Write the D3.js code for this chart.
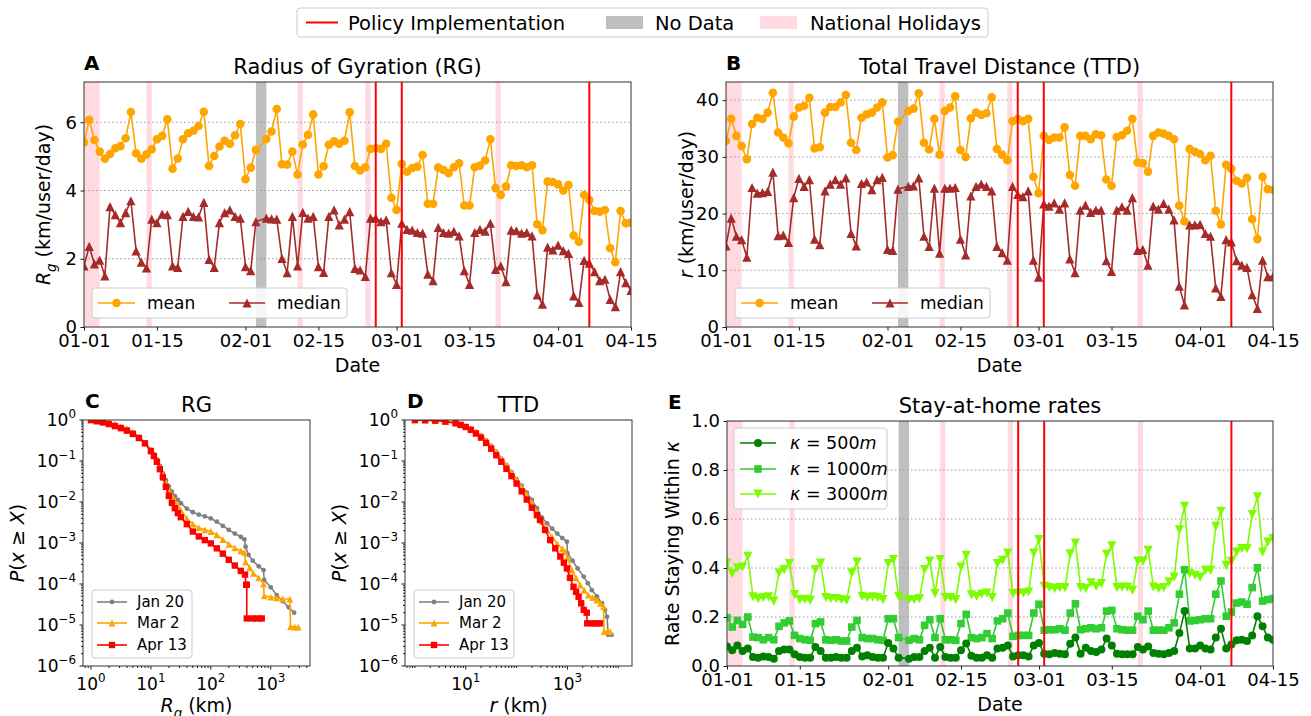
<!DOCTYPE html>
<html>
<head>
<meta charset="utf-8">
<script src="https://cdn.jsdelivr.net/npm/d3@7/dist/d3.min.js"></script>
<style>
  body { margin: 0; background: #fff; }
  svg { font-family: "DejaVu Sans", sans-serif; }
</style>
</head>
<body>
<svg id="fig" width="1311" height="716"></svg>
<script>
// ---- Data ----
// one value per day, 2020-01-01 .. 2020-04-15 (null = no data on 02-04)
const dates = d3.timeDay.range(new Date(2020, 0, 1), new Date(2020, 3, 16));
const dateTicks = ["2020-01-01", "2020-01-15", "2020-02-01", "2020-02-15", "2020-03-01", "2020-03-15", "2020-04-01", "2020-04-15"];

const rgMean = [5.41,6.07,5.48,5.14,4.93,5.07,5.24,5.30,5.53,6.30,
  5.09,4.93,5.06,5.21,5.50,5.60,6.09,4.64,4.94,5.50,
  5.68,5.75,5.89,6.31,4.72,5.01,5.29,5.46,5.37,5.62,
  5.95,4.33,4.67,5.19,null,5.51,5.73,6.39,4.77,4.76,
  5.14,4.47,5.35,5.63,6.23,4.47,4.71,5.34,5.44,5.37,
  5.46,6.29,4.72,4.59,4.68,5.22,5.24,5.22,5.37,3.79,
  3.43,4.78,4.55,4.66,4.70,5.04,3.61,3.61,4.67,4.60,
  4.51,4.68,4.80,3.56,3.56,4.68,4.73,4.88,5.50,4.07,
  3.87,4.12,4.74,4.72,4.74,4.68,4.74,3.01,2.84,4.26,
  4.25,4.18,4.00,4.16,2.68,2.50,3.87,3.72,3.40,3.38,
  3.43,2.31,1.90,3.40,3.04,3.06];
const rgMedian = [1.79,2.36,1.85,1.96,1.50,3.53,3.29,3.06,3.35,3.70,
  2.23,1.90,1.73,3.16,3.06,3.31,3.29,1.79,1.75,3.24,
  3.39,3.24,3.23,3.65,1.98,1.75,3.06,3.35,3.43,3.24,
  3.19,1.77,1.65,3.09,null,3.19,3.17,3.16,2.01,1.59,
  3.24,1.79,3.36,3.19,3.24,1.77,1.60,3.24,3.43,2.99,
  3.16,3.38,1.72,1.67,1.48,3.19,3.19,3.09,3.14,1.59,
  1.25,3.04,2.86,2.84,2.77,2.75,1.55,1.36,2.92,2.77,
  2.75,2.80,2.67,1.65,1.25,2.77,2.86,2.81,3.04,1.69,
  1.79,1.33,2.84,2.82,2.75,2.77,2.67,0.94,0.67,2.34,
  2.26,2.40,2.24,2.16,0.91,0.72,1.95,1.87,1.62,1.36,
  1.40,0.81,0.60,1.62,1.30,1.07];
const ttdMean = [32.8,36.7,33.7,31.9,29.6,35.8,36.9,36.7,37.8,41.3,
  34.3,33.4,32.4,37.1,38.7,39.0,40.4,31.5,31.7,37.8,
  38.8,38.8,39.6,40.9,32.5,31.2,36.9,37.5,37.8,38.7,
  39.6,29.9,30.3,36.2,null,38.1,38.5,41.2,32.5,31.3,
  36.7,30.4,38.1,38.7,40.7,31.2,30.0,36.8,37.8,37.4,
  37.7,40.5,31.4,30.4,29.4,36.3,36.7,36.3,36.7,26.5,
  23.6,33.7,33.0,33.4,33.4,35.2,26.8,24.9,33.7,33.7,
  33.1,34.0,33.8,26.0,24.9,33.5,33.8,34.6,36.7,29.0,
  28.9,27.4,33.7,34.3,34.1,33.7,33.1,21.4,18.6,31.4,
  30.9,30.5,29.4,30.2,20.5,18.1,28.6,27.9,25.8,25.3,
  26.3,19.0,15.5,26.5,24.3,24.2];
const ttdMedian = [14.3,19.2,16.0,15.4,12.3,24.6,23.6,23.7,23.9,27.3,
  16.1,16.2,14.9,22.8,26.2,24.8,26.0,15.5,14.5,24.0,
  25.2,26.0,25.2,26.3,16.5,14.3,25.3,25.6,24.2,26.0,
  26.4,13.7,13.5,24.3,null,24.8,24.9,26.3,16.0,14.2,
  24.5,13.0,24.5,24.5,24.6,15.5,12.7,23.1,24.8,25.2,
  24.8,24.0,14.2,13.1,11.8,24.8,23.4,23.0,24.0,11.8,
  8.8,21.7,21.3,21.9,20.8,21.9,12.0,9.6,20.6,21.5,
  20.2,20.6,20.6,11.7,9.8,20.6,21.2,20.6,22.8,13.5,
  13.7,10.9,21.3,20.8,21.8,20.8,18.9,7.2,3.9,18.0,
  18.0,18.1,16.5,16.0,6.9,5.4,15.4,15.0,11.7,10.9,
  10.5,5.7,3.3,11.8,8.9,8.9];
const stay500 = [0.080,0.064,0.084,0.061,0.071,0.037,0.034,0.039,0.037,0.030,
  0.061,0.067,0.067,0.048,0.037,0.034,0.034,0.078,0.061,0.034,
  0.034,0.037,0.034,0.034,0.061,0.075,0.039,0.044,0.037,0.034,
  0.034,0.094,0.071,0.034,null,0.030,0.037,0.037,0.061,0.075,
  0.034,0.078,0.037,0.034,0.034,0.064,0.092,0.042,0.034,0.034,
  0.044,0.034,0.071,0.075,0.084,0.039,0.044,0.044,0.039,0.084,
  0.094,0.050,0.048,0.053,0.050,0.048,0.091,0.116,0.050,0.075,
  0.061,0.057,0.067,0.112,0.084,0.050,0.048,0.048,0.048,0.078,
  0.067,0.080,0.053,0.050,0.048,0.053,0.061,0.135,0.224,0.071,
  0.071,0.084,0.071,0.067,0.116,0.152,0.071,0.088,0.105,0.107,
  0.102,0.125,0.203,0.162,0.116,0.107];
const stay1000 = [0.197,0.159,0.186,0.170,0.200,0.118,0.116,0.107,0.116,0.107,
  0.162,0.176,0.184,0.125,0.112,0.107,0.105,0.173,0.180,0.107,
  0.105,0.107,0.102,0.102,0.159,0.186,0.116,0.112,0.112,0.107,
  0.105,0.193,0.193,0.116,null,0.105,0.112,0.107,0.166,0.189,
  0.116,0.193,0.107,0.107,0.105,0.173,0.211,0.116,0.112,0.116,
  0.132,0.112,0.184,0.193,0.216,0.121,0.125,0.125,0.125,0.216,
  0.252,0.146,0.148,0.148,0.152,0.146,0.216,0.254,0.148,0.152,
  0.156,0.152,0.156,0.224,0.227,0.152,0.148,0.146,0.146,0.203,
  0.189,0.224,0.146,0.146,0.146,0.156,0.176,0.293,0.393,0.184,
  0.186,0.189,0.193,0.193,0.293,0.347,0.203,0.220,0.257,0.261,
  0.252,0.320,0.401,0.265,0.271,0.275];
const stay3000 = [0.420,0.377,0.400,0.404,0.448,0.282,0.275,0.279,0.282,0.265,
  0.380,0.393,0.418,0.291,0.271,0.272,0.268,0.393,0.420,0.279,
  0.275,0.275,0.271,0.268,0.380,0.424,0.284,0.279,0.282,0.279,
  0.271,0.418,0.434,0.284,null,0.271,0.271,0.275,0.393,0.428,
  0.295,0.434,0.279,0.279,0.271,0.404,0.452,0.290,0.284,0.293,
  0.298,0.279,0.418,0.431,0.461,0.295,0.298,0.298,0.302,0.461,
  0.516,0.325,0.320,0.316,0.320,0.320,0.458,0.502,0.320,0.316,
  0.339,0.325,0.336,0.456,0.490,0.320,0.322,0.322,0.309,0.428,
  0.428,0.472,0.322,0.316,0.320,0.343,0.363,0.556,0.652,0.377,
  0.370,0.363,0.390,0.390,0.570,0.631,0.411,0.427,0.465,0.479,
  0.479,0.618,0.690,0.465,0.506,0.520];

// shaded periods and policy dates
const holidays = [["2020-01-01", "2020-01-04"], ["2020-01-13", "2020-01-14"], ["2020-02-11", "2020-02-12"], ["2020-02-24", "2020-02-25"], ["2020-03-20", "2020-03-21"]];
const noData = [["2020-02-03", "2020-02-05"]];
const policyDates = ["2020-02-26", "2020-03-02", "2020-04-07"];

// CCDF curves, pairs of [log10 km, log10 P(x >= X)]
const rgJan20 = [[0,0],[0.1,-0.02],[0.2,-0.04],[0.3,-0.07],[0.4,-0.11],[0.5,-0.16],[0.6,-0.22],[0.7,-0.3],[0.8,-0.41],[0.9,-0.55],[1.0,-0.72],[1.05,-0.83],[1.1,-0.96],[1.15,-1.12],[1.2,-1.3],[1.25,-1.47],[1.3,-1.62],[1.35,-1.75],[1.4,-1.86],[1.45,-1.95],[1.5,-2.03],[1.6,-2.16],[1.7,-2.25],[1.8,-2.31],[1.9,-2.35],[2.0,-2.4],[2.1,-2.48],[2.2,-2.58],[2.3,-2.68],[2.4,-2.77],[2.5,-2.85],[2.56,-2.91],[2.58,-3.09],[2.63,-3.29],[2.7,-3.43],[2.8,-3.57],[2.88,-3.66],[2.89,-3.9],[3.0,-4.08],[3.1,-4.27],[3.2,-4.42],[3.3,-4.57],[3.39,-4.7]];
const rgMar2 = [[0,0],[0.1,-0.02],[0.2,-0.04],[0.3,-0.07],[0.4,-0.11],[0.5,-0.16],[0.6,-0.22],[0.7,-0.3],[0.8,-0.41],[0.9,-0.55],[1.0,-0.73],[1.05,-0.85],[1.1,-0.98],[1.15,-1.15],[1.2,-1.33],[1.25,-1.52],[1.3,-1.7],[1.35,-1.85],[1.4,-1.98],[1.45,-2.1],[1.5,-2.2],[1.6,-2.4],[1.7,-2.54],[1.8,-2.63],[1.9,-2.68],[2.0,-2.72],[2.1,-2.8],[2.2,-2.92],[2.3,-3.03],[2.4,-3.12],[2.5,-3.19],[2.56,-3.23],[2.58,-3.46],[2.65,-3.6],[2.71,-3.74],[2.8,-3.85],[2.88,-4.0],[2.89,-4.29],[3.0,-4.32],[3.1,-4.34],[3.2,-4.36],[3.32,-4.37],[3.33,-5.04],[3.4,-5.05],[3.46,-5.05]];
const rgApr13 = [[0,0],[0.1,-0.03],[0.2,-0.06],[0.3,-0.1],[0.4,-0.15],[0.5,-0.2],[0.6,-0.26],[0.7,-0.34],[0.8,-0.44],[0.9,-0.57],[1.0,-0.76],[1.05,-0.88],[1.1,-1.02],[1.15,-1.2],[1.2,-1.4],[1.25,-1.63],[1.3,-1.85],[1.35,-2.02],[1.4,-2.15],[1.45,-2.27],[1.5,-2.37],[1.6,-2.54],[1.7,-2.72],[1.8,-2.84],[1.9,-2.93],[2.0,-3.01],[2.1,-3.13],[2.2,-3.26],[2.3,-3.41],[2.4,-3.55],[2.5,-3.68],[2.57,-3.77],[2.59,-4.02],[2.6,-4.02],[2.6,-4.84],[2.7,-4.84],[2.78,-4.84],[2.85,-4.84]];
const ttdJan20 = [[0,0],[0.2,-0.004],[0.4,-0.012],[0.6,-0.03],[0.8,-0.07],[0.9,-0.1],[1.0,-0.15],[1.1,-0.21],[1.2,-0.29],[1.3,-0.38],[1.4,-0.5],[1.5,-0.63],[1.6,-0.78],[1.7,-0.94],[1.8,-1.1],[1.9,-1.27],[2.0,-1.44],[2.1,-1.6],[2.2,-1.77],[2.3,-1.95],[2.4,-2.15],[2.5,-2.38],[2.6,-2.52],[2.7,-2.65],[2.8,-2.77],[2.9,-2.88],[2.99,-2.97],[3.0,-3.25],[3.1,-3.43],[3.2,-3.62],[3.32,-3.82],[3.4,-3.98],[3.48,-4.15],[3.58,-4.3],[3.68,-4.47],[3.74,-4.63],[3.78,-4.8],[3.8,-5.24],[3.87,-5.24]];
const ttdMar2 = [[0,0],[0.2,-0.004],[0.4,-0.012],[0.6,-0.03],[0.8,-0.07],[0.9,-0.1],[1.0,-0.15],[1.1,-0.21],[1.2,-0.29],[1.3,-0.38],[1.4,-0.5],[1.5,-0.63],[1.6,-0.78],[1.7,-0.94],[1.8,-1.11],[1.9,-1.28],[2.0,-1.46],[2.1,-1.63],[2.2,-1.82],[2.3,-2.02],[2.4,-2.24],[2.5,-2.47],[2.6,-2.68],[2.7,-2.86],[2.8,-3.02],[2.9,-3.14],[2.95,-3.21],[3.0,-3.36],[3.09,-3.66],[3.17,-3.85],[3.25,-4.02],[3.33,-4.15],[3.41,-4.27],[3.5,-4.33],[3.58,-4.39],[3.65,-4.47],[3.71,-4.55],[3.72,-5.16],[3.78,-5.16],[3.84,-5.16]];
const ttdApr13 = [[0,0],[0.2,-0.005],[0.4,-0.015],[0.6,-0.04],[0.8,-0.08],[0.9,-0.12],[1.0,-0.17],[1.1,-0.24],[1.2,-0.33],[1.3,-0.43],[1.4,-0.56],[1.5,-0.7],[1.6,-0.86],[1.7,-1.02],[1.8,-1.19],[1.9,-1.37],[2.0,-1.55],[2.1,-1.74],[2.2,-1.94],[2.3,-2.14],[2.4,-2.32],[2.46,-2.44],[2.56,-2.68],[2.66,-2.93],[2.76,-3.13],[2.86,-3.33],[2.93,-3.48],[2.99,-3.62],[3.05,-3.85],[3.12,-4.07],[3.17,-4.19],[3.22,-4.31],[3.27,-4.47],[3.32,-4.63],[3.38,-4.7],[3.39,-4.96],[3.5,-4.96],[3.57,-4.96],[3.64,-4.96]];

// ---- Setup ----
const svg = d3.select("#fig");
svg.append("rect").attr("width", 1311).attr("height", 716).attr("fill", "#fff");
const parseDay = d3.timeParse("%Y-%m-%d");

const COL = {
  mean: "#FFA500", median: "#A52A2A", policy: "#FF0000",
  nodata: "#bfbfbf", holiday: "#ffdbe1",
  k500: "#008000", k1000: "#32CD32", k3000: "#7CFC00",
  jan: "#808080", mar: "#FFA500", apr: "#FF0000",
  spine: "#333", grid: "#999"
};
const TICK_FS = 18, LOG_TICK_FS = 17, LABEL_FS = 19, TITLE_FS = 21;

function markerPath(type, s) {
  if (type === "o") return `M${-s},0a${s},${s} 0 1,0 ${2*s},0a${s},${s} 0 1,0 ${-2*s},0Z`;
  if (type === "^") return `M0,${-s}L${s},${s}L${-s},${s}Z`;
  if (type === "v") return `M0,${s}L${s},${-s}L${-s},${-s}Z`;
  return `M${-s},${-s}h${2*s}v${2*s}h${-2*s}Z`;
}

// text made of parts: {t, i (italic), sub, sup}
function richText(g, parts, attrs) {
  const t = g.append("text");
  Object.entries(attrs).forEach(([k, v]) => t.attr(k, v));
  let shift = 0;
  parts.forEach(p => {
    const s = t.append("tspan").text(p.t);
    if (p.i) s.attr("font-style", "italic");
    let target = p.sub ? 0.3 : p.sup ? -0.45 : 0;
    const fs = t.attr("font-size") ? +t.attr("font-size") : 16;
    if (target !== shift) { s.attr("dy", ((target - shift) * fs).toFixed(2)); shift = target; }
    if (p.sub || p.sup) s.attr("font-size", fs * 0.7);
  });
  return t;
}

let clipId = 0;
function addClip(box) {
  const id = "clip" + (clipId++);
  svg.append("clipPath").attr("id", id).append("rect")
    .attr("x", box.x0).attr("y", box.y0).attr("width", box.x1 - box.x0).attr("height", box.y1 - box.y0);
  return id;
}

function spines(g, box) {
  g.append("rect").attr("x", box.x0).attr("y", box.y0)
    .attr("width", box.x1 - box.x0).attr("height", box.y1 - box.y0)
    .attr("fill", "none").attr("stroke", COL.spine).attr("stroke-width", 1);
}

function legendBox(g, x, y, w, h) {
  g.append("rect").attr("x", x).attr("y", y).attr("width", w).attr("height", h)
    .attr("rx", 3).attr("fill", "#fff").attr("fill-opacity", 0.85)
    .attr("stroke", "#ccc").attr("stroke-width", 1);
}

function legendLine(g, x0, x1, y, color, marker, size) {
  g.append("line").attr("x1", x0).attr("x2", x1).attr("y1", y).attr("y2", y)
    .attr("stroke", color).attr("stroke-width", 1.6);
  g.append("path").attr("d", markerPath(marker, size))
    .attr("transform", `translate(${(x0 + x1) / 2},${y})`).attr("fill", color);
}

// ---- Date panels ----
function datePanel(box, cfg) {
  const g = svg.append("g");
  const x = d3.scaleTime().domain([dates[0], dates[dates.length - 1]]).range([box.x0, box.x1]);
  const y = d3.scaleLinear().domain([0, cfg.ymax]).range([box.y1, box.y0]);
  const clip = addClip(box);
  const inner = g.append("g").attr("clip-path", `url(#${clip})`);

  inner.selectAll(".hol").data(holidays).join("rect")
    .attr("x", d => x(parseDay(d[0]))).attr("y", box.y0)
    .attr("width", d => x(parseDay(d[1])) - x(parseDay(d[0])))
    .attr("height", box.y1 - box.y0).attr("fill", COL.holiday);
  inner.selectAll(".nod").data(noData).join("rect")
    .attr("x", d => x(parseDay(d[0]))).attr("y", box.y0)
    .attr("width", d => x(parseDay(d[1])) - x(parseDay(d[0])))
    .attr("height", box.y1 - box.y0).attr("fill", COL.nodata);

  inner.selectAll(".grid").data(cfg.yticks.filter(v => v > 0)).join("line")
    .attr("x1", box.x0).attr("x2", box.x1)
    .attr("y1", d => y(d)).attr("y2", d => y(d))
    .attr("stroke", COL.grid).attr("stroke-width", 1).attr("stroke-dasharray", "1.5,2.5");

  cfg.series.forEach(s => {
    const pts = dates.map((d, i) => [d, s.values[i]]).filter(p => p[1] != null);
    inner.append("path").datum(pts)
      .attr("d", d3.line().x(p => x(p[0])).y(p => y(p[1])))
      .attr("fill", "none").attr("stroke", s.color).attr("stroke-width", 1.6);
    inner.append("g").selectAll("path").data(pts).join("path")
      .attr("transform", p => `translate(${x(p[0])},${y(p[1])})`)
      .attr("d", markerPath(s.marker, s.size)).attr("fill", s.color);
  });

  inner.selectAll(".pol").data(policyDates).join("line")
    .attr("x1", d => x(parseDay(d))).attr("x2", d => x(parseDay(d)))
    .attr("y1", box.y0).attr("y2", box.y1)
    .attr("stroke", COL.policy).attr("stroke-width", 2);

  // axes
  const ax = g.append("g").attr("transform", `translate(0,${box.y1})`)
    .call(d3.axisBottom(x).tickValues(dateTicks.map(parseDay))
      .tickFormat(d3.timeFormat("%m-%d")).tickSizeOuter(0).tickSize(3.5).tickPadding(3.5));
  const ay = g.append("g").attr("transform", `translate(${box.x0},0)`)
    .call(d3.axisLeft(y).tickValues(cfg.yticks).tickFormat(cfg.yfmt).tickSizeOuter(0).tickSize(3.5).tickPadding(3.5));
  [ax, ay].forEach(a => {
    a.attr("font-family", "DejaVu Sans, sans-serif").attr("font-size", TICK_FS);
    a.select(".domain").remove();
    a.selectAll(".tick line").attr("stroke", "#000").attr("stroke-width", 0.9);
    a.selectAll(".tick text").attr("fill", "#000");
  });
  spines(g, box);

  // labels
  g.append("text").attr("x", (box.x0 + box.x1) / 2).attr("y", box.y1 + 45)
    .attr("text-anchor", "middle").attr("font-size", LABEL_FS).text("Date");
  richText(g, cfg.ylabel, {
    "font-size": LABEL_FS, "text-anchor": "middle",
    transform: `translate(${cfg.ylabelX},${(box.y0 + box.y1) / 2}) rotate(-90)`
  });
  g.append("text").attr("x", (box.x0 + box.x1) / 2).attr("y", box.y0 - 8)
    .attr("text-anchor", "middle").attr("font-size", TITLE_FS).text(cfg.title);
  g.append("text").attr("x", cfg.letterX).attr("y", box.y0 - 12)
    .attr("font-size", 20).attr("font-weight", "bold").text(cfg.letter);
  return g;
}

// panel A
const boxA = {x0: 84, x1: 631, y0: 82, y1: 327};
const gA = datePanel(boxA, {
  ymax: 7.18, yticks: [0, 2, 4, 6], yfmt: d3.format("d"),
  title: "Radius of Gyration (RG)", letter: "A", letterX: 84, ylabelX: 50,
  ylabel: [{t: "R", i: true}, {t: "g", i: true, sub: true}, {t: " (km/user/day)"}],
  series: [
    {values: rgMean, color: COL.mean, marker: "o", size: 4.3},
    {values: rgMedian, color: COL.median, marker: "^", size: 4.6}
  ]
});
// panel B
const boxB = {x0: 726, x1: 1273, y0: 82, y1: 327};
const gB = datePanel(boxB, {
  ymax: 43.2, yticks: [0, 10, 20, 30, 40], yfmt: d3.format("d"),
  title: "Total Travel Distance (TTD)", letter: "B", letterX: 726, ylabelX: 693,
  ylabel: [{t: "r", i: true}, {t: " (km/user/day)"}],
  series: [
    {values: ttdMean, color: COL.mean, marker: "o", size: 4.3},
    {values: ttdMedian, color: COL.median, marker: "^", size: 4.6}
  ]
});
// panel E
const boxE = {x0: 727, x1: 1273, y0: 421, y1: 666};
const gE = datePanel(boxE, {
  ymax: 1.0, yticks: [0, 0.2, 0.4, 0.6, 0.8, 1.0], yfmt: d3.format(".1f"),
  title: "Stay-at-home rates", letter: "E", letterX: 668, ylabelX: 679,
  ylabel: [{t: "Rate Staying Within "}, {t: "κ", i: true}],
  series: [
    {values: stay3000, color: COL.k3000, marker: "v", size: 4.6},
    {values: stay1000, color: COL.k1000, marker: "s", size: 3.8},
    {values: stay500, color: COL.k500, marker: "o", size: 4.0}
  ]
});

// legends for A and B
[[gA, 92], [gB, 735]].forEach(([g, lx]) => {
  legendBox(g, lx, 288, 255, 30);
  legendLine(g, lx + 6, lx + 43, 303, COL.mean, "o", 4.3);
  g.append("text").attr("x", lx + 55).attr("y", 309).attr("font-size", 17).text("mean");
  legendLine(g, lx + 137, lx + 173, 303, COL.median, "^", 4.6);
  g.append("text").attr("x", lx + 185).attr("y", 309).attr("font-size", 17).text("median");
});
// legend for E
legendBox(gE, 734, 428, 153, 81);
[["500", COL.k500, "o", 4.0, 443], ["1000", COL.k1000, "s", 3.8, 469], ["3000", COL.k3000, "v", 4.6, 494]].forEach(([k, c, m, s, ly]) => {
  legendLine(gE, 740, 776, ly, c, m, s);
  richText(gE, [{t: "κ", i: true}, {t: " = " + k}, {t: "m", i: true}], {x: 790, y: ly + 6, "font-size": 17.5});
});

// ---- CCDF panels ----
const yLogTicks = [0, -1, -2, -3, -4, -5, -6];
function ccdfPanel(box, cfg) {
  const g = svg.append("g");
  const x = d3.scaleLog().domain(cfg.xdom).range([box.x0, box.x1]);
  const y = d3.scaleLog().domain([1e-6, 1]).range([box.y1, box.y0]);
  const clip = addClip(box);
  const inner = g.append("g").attr("clip-path", `url(#${clip})`);

  cfg.series.forEach(s => {
    const pts = s.values.map(p => [Math.pow(10, p[0]), Math.pow(10, p[1])]);
    inner.append("path").datum(pts)
      .attr("d", d3.line().x(p => x(p[0])).y(p => y(p[1])))
      .attr("fill", "none").attr("stroke", s.color).attr("stroke-width", 1.6);
    inner.append("g").selectAll("path").data(pts).join("path")
      .attr("transform", p => `translate(${x(p[0])},${y(p[1])})`)
      .attr("d", markerPath(s.marker, s.size)).attr("fill", s.color);
  });

  // ticks
  const tk = g.append("g").attr("stroke", "#000").attr("stroke-width", 0.9);
  const lx = Math.log10(cfg.xdom[0]), hx = Math.log10(cfg.xdom[1]);
  for (let e = Math.floor(lx); e <= Math.ceil(hx); e++) {
    for (let k = 1; k <= 9; k++) {
      const v = k * Math.pow(10, e);
      if (v < cfg.xdom[0] || v > cfg.xdom[1]) continue;
      const major = k === 1 && cfg.xMajor.includes(e);
      tk.append("line").attr("x1", x(v)).attr("x2", x(v))
        .attr("y1", box.y1).attr("y2", box.y1 + (major ? 3.5 : 2));
    }
  }
  for (let e = -6; e <= 0; e++) {
    for (let k = 1; k <= 9; k++) {
      const v = k * Math.pow(10, e);
      if (v > 1) continue;
      tk.append("line").attr("y1", y(v)).attr("y2", y(v))
        .attr("x1", box.x0).attr("x2", box.x0 - (k === 1 ? 3.5 : 2));
    }
  }
  const expo = e => (e < 0 ? "\u2212" + (-e) : "" + e);
  cfg.xMajor.forEach(e => {
    richText(g, [{t: "10"}, {t: expo(e), sup: true}],
      {x: x(Math.pow(10, e)), y: box.y1 + 24, "font-size": LOG_TICK_FS, "text-anchor": "middle"});
  });
  yLogTicks.forEach(e => {
    richText(g, [{t: "10"}, {t: expo(e), sup: true}],
      {x: box.x0 - 7, y: y(Math.pow(10, e)) + 6, "font-size": LOG_TICK_FS, "text-anchor": "end"});
  });
  spines(g, box);

  richText(g, cfg.xlabel, {x: (box.x0 + box.x1) / 2, y: box.y1 + 46, "font-size": LABEL_FS, "text-anchor": "middle"});
  richText(g, [{t: "P", i: true}, {t: "("}, {t: "x", i: true}, {t: " \u2265 "}, {t: "X", i: true}, {t: ")"}], {
    "font-size": LABEL_FS, "text-anchor": "middle",
    transform: `translate(${cfg.ylabelX},${(box.y0 + box.y1) / 2}) rotate(-90)`
  });
  g.append("text").attr("x", (box.x0 + box.x1) / 2).attr("y", box.y0 - 8)
    .attr("text-anchor", "middle").attr("font-size", TITLE_FS).text(cfg.title);
  g.append("text").attr("x", box.x0 + 2).attr("y", box.y0 - 12)
    .attr("font-size", 20).attr("font-weight", "bold").text(cfg.letter);

  // legend
  const L = box.x0 + 9;
  legendBox(g, L, 590, 100, 68);
  [["Jan 20", COL.jan, "o", 2.4, 602], ["Mar 2", COL.mar, "^", 3.4, 623], ["Apr 13", COL.apr, "s", 3.2, 645]].forEach(([t, c, m, s, ly]) => {
    legendLine(g, L + 5, L + 35, ly, c, m, s);
    g.append("text").attr("x", L + 45).attr("y", ly + 5).attr("font-size", 15).text(t);
  });
}

const ccdfSeries = (a, b, c) => [
  {values: a, color: COL.jan, marker: "o", size: 2.4},
  {values: b, color: COL.mar, marker: "^", size: 3.4},
  {values: c, color: COL.apr, marker: "s", size: 3.2}
];
ccdfPanel({x0: 83, x1: 310, y0: 420, y1: 666}, {
  xdom: [Math.pow(10, -0.133), Math.pow(10, 3.655)], xMajor: [0, 1, 2, 3],
  title: "RG", letter: "C", ylabelX: 24,
  xlabel: [{t: "R", i: true}, {t: "g", i: true, sub: true}, {t: " (km)"}],
  series: ccdfSeries(rgJan20, rgMar2, rgApr13)
});
ccdfPanel({x0: 405, x1: 632, y0: 420, y1: 666}, {
  xdom: [Math.pow(10, -0.195), Math.pow(10, 4.27)], xMajor: [1, 3],
  title: "TTD", letter: "D", ylabelX: 346,
  xlabel: [{t: "r", i: true}, {t: " (km)"}],
  series: ccdfSeries(ttdJan20, ttdMar2, ttdApr13)
});

// ---- Top legend ----
const topLegend = svg.append("g");
legendBox(topLegend, 297, 8, 691, 29);
topLegend.append("line").attr("x1", 306).attr("x2", 338).attr("y1", 22.5).attr("y2", 22.5)
  .attr("stroke", COL.policy).attr("stroke-width", 2);
topLegend.append("text").attr("x", 348).attr("y", 29.5).attr("font-size", 19.5).text("Policy Implementation");
topLegend.append("rect").attr("x", 606).attr("y", 16).attr("width", 37).attr("height", 13).attr("fill", COL.nodata);
topLegend.append("text").attr("x", 655).attr("y", 29.5).attr("font-size", 19.5).text("No Data");
topLegend.append("rect").attr("x", 760).attr("y", 16).attr("width", 37).attr("height", 13).attr("fill", COL.holiday);
topLegend.append("text").attr("x", 810).attr("y", 29.5).attr("font-size", 19.5).text("National Holidays");
</script>
</body>
</html>
